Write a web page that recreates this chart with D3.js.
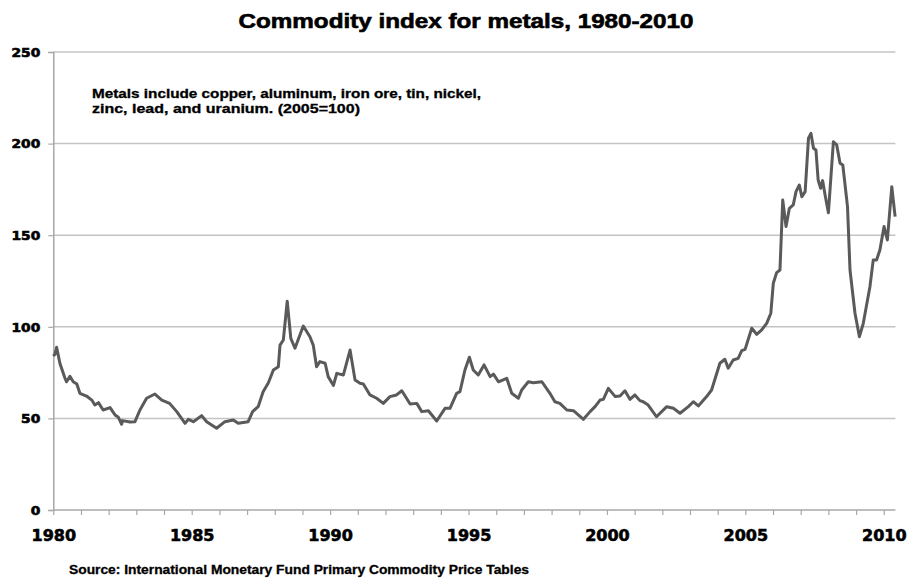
<!DOCTYPE html>
<html>
<head>
<meta charset="utf-8">
<script src="https://cdn.jsdelivr.net/npm/d3@7"></script>
<style>
  body { margin: 0; background: #fff; }
  svg { display: block; }
</style>
</head>
<body>
<div id="chart"></div>
<script>
// monthly-ish readings of the IMF metals index (2005=100)
const years = [1980.00, 1980.06, 1980.12, 1980.24, 1980.42, 1980.48, 1980.6, 1980.72, 1980.85, 1980.96,
  1981.2, 1981.39, 1981.5, 1981.63, 1981.8, 1982.05, 1982.23, 1982.35, 1982.47, 1982.5,
  1982.77, 1982.95, 1983.13, 1983.37, 1983.67, 1983.92, 1984.2, 1984.46, 1984.76, 1984.88,
  1985.06, 1985.36, 1985.54, 1985.9, 1986.2, 1986.5, 1986.68, 1987.04, 1987.2, 1987.4,
  1987.58, 1987.77, 1987.95, 1988.13, 1988.19, 1988.31, 1988.45, 1988.58, 1988.73, 1989.03,
  1989.27, 1989.39, 1989.51, 1989.63, 1989.82, 1989.93, 1990.12, 1990.24, 1990.48, 1990.72,
  1990.9, 1991.08, 1991.2, 1991.44, 1991.68, 1991.92, 1992.16, 1992.4, 1992.59, 1992.89,
  1993.13, 1993.31, 1993.55, 1993.85, 1994.15, 1994.33, 1994.57, 1994.69, 1994.87, 1995.03,
  1995.17, 1995.35, 1995.56, 1995.78, 1995.9, 1996.08, 1996.38, 1996.56, 1996.8, 1996.92,
  1997.16, 1997.34, 1997.65, 1997.94, 1998.12, 1998.3, 1998.55, 1998.79, 1999.15, 1999.39,
  1999.57, 1999.75, 1999.87, 2000.05, 2000.3, 2000.47, 2000.65, 2000.83, 2001.01, 2001.19,
  2001.31, 2001.49, 2001.79, 2002.16, 2002.4, 2002.64, 2002.94, 2003.12, 2003.3, 2003.6,
  2003.78, 2004.08, 2004.26, 2004.38, 2004.56, 2004.74, 2004.87, 2004.99, 2005.23, 2005.41,
  2005.59, 2005.77, 2005.92, 2006.01, 2006.13, 2006.25, 2006.35, 2006.47, 2006.59, 2006.73,
  2006.83, 2006.95, 2007.04, 2007.16, 2007.28, 2007.37, 2007.46, 2007.55, 2007.63, 2007.72,
  2007.79, 2007.88, 2008.0, 2008.18, 2008.3, 2008.42, 2008.52, 2008.69, 2008.78, 2008.96,
  2009.12, 2009.26, 2009.5, 2009.62, 2009.74, 2009.86, 2010.01, 2010.13, 2010.29, 2010.41]

const metalIndex = [84, 85, 88.8, 80, 72, 70, 73, 70, 68.8, 63.7,
  62.2, 60, 57.3, 58.6, 54.6, 55.9, 51.9, 50.6, 46.8, 48.8,
  48, 48.2, 54.6, 61, 63.3, 60, 58.2, 53.7, 47.3, 49.5,
  48.2, 51.5, 48.2, 44.6, 48.2, 49.1, 47.3, 48.2, 53.7, 56.4,
  64.6, 69.5, 76.4, 78.2, 90, 92.8, 114, 93.7, 88.3, 100.4,
  94.6, 90, 78.2, 81, 80.1, 72.8, 68, 74.6, 73.7, 87.3,
  71, 69.2, 68.8, 62.8, 61, 58.2, 61.9, 62.8, 65.1, 57.9,
  58.2, 53.7, 54.2, 48.6, 55.5, 55.5, 63.7, 64.6, 76.4, 83.4,
  76.4, 73.7, 79.2, 72.8, 74.2, 70, 71.9, 63.7, 61, 65.5,
  70, 69.5, 70, 63.7, 59.1, 58.2, 54.6, 54.2, 49.5, 53.7,
  56.4, 60, 60.4, 66.4, 61.9, 62.2, 65.1, 60.4, 62.8, 59.7,
  59.1, 57.3, 50.9, 56.4, 55.5, 52.8, 56.4, 59.1, 56.8, 61.9,
  65.5, 80.1, 82.3, 77.4, 81.9, 82.8, 87, 87.7, 99.2, 95.9,
  98.3, 101.9, 107.4, 123.8, 129.6, 131, 169.2, 154.7, 164.7, 166.5,
  173.8, 177.4, 171, 173.8, 202.9, 205.6, 197.5, 196.5, 180.1, 175.6,
  179.8, 172, 162.3, 201, 199.3, 189.3, 188.3, 165.6, 131, 107.4,
  94.6, 101.9, 121.9, 136.5, 136.5, 141.9, 154.7, 147.4, 176.5, 160.1]

const yTicks = [0, 50, 100, 150, 200, 250]
const xTicks = d3.range(1980, 2011)
const xLabels = [1980, 1985, 1990, 1995, 2000, 2005, 2010]

const title = "Commodity index for metals, 1980-2010"
const note = ["Metals include copper, aluminum, iron ore, tin, nickel,",
              "zinc, lead, and uranium. (2005=100)"]
const source = "Source: International Monetary Fund Primary Commodity Price Tables"

const width = 914
const height = 582
const margin = { left: 53.3, right: 18.6, top: 52, bottom: 72 }

const data = years.map(function(y, i) { return { year: y, value: metalIndex[i] } })

var svg = d3.select("#chart")
  .append("svg")
  .attr("width", width)
  .attr("height", height)

var x = d3.scaleLinear()
  .domain([1980, 2010.42])
  .range([margin.left, width - margin.right])

var y = d3.scaleLinear()
  .domain([0, 250])
  .range([height - margin.bottom, margin.top])

// gridlines
svg.append("g")
  .selectAll("line")
  .data(yTicks.filter(d => d > 0))
  .enter().append("line")
    .attr("x1", x.range()[0])
    .attr("x2", x.range()[1])
    .attr("y1", d => y(d))
    .attr("y2", d => y(d))
    .attr("stroke", "#c4c4c4")
    .attr("stroke-width", 1.5)

// y axis
var yAxis = svg.append("g")
  .attr("transform", "translate(" + x.range()[0] + ",0)")
  .call(d3.axisLeft(y).tickValues(yTicks).tickSize(5).tickPadding(8))
yAxis.select(".domain").attr("stroke", "#a8a8a8").attr("stroke-width", 1.5)
yAxis.selectAll(".tick line").attr("stroke", "#a8a8a8").attr("stroke-width", 1.2)
yAxis.selectAll("text")
  .attr("font-family", "DejaVu Sans")
  .attr("font-weight", "bold")
  .attr("font-size", 12)
  .attr("fill", "#000")
  .attr("stroke", "#000")
  .attr("stroke-width", 0.6)
  .attr("x", -13)
  .attr("dy", "0.36em")
  .attr("textLength", d => String(d).length * 9.6)
  .attr("lengthAdjust", "spacingAndGlyphs")

// x axis
var xAxis = svg.append("g")
  .attr("transform", "translate(0," + y(0) + ")")
  .call(d3.axisBottom(x).tickValues(xTicks).tickSize(5)
    .tickFormat(d => xLabels.includes(d) ? String(d) : ""))
xAxis.select(".domain").attr("stroke", "#a8a8a8").attr("stroke-width", 1.5)
  .attr("d", "M" + x.range()[0] + ",0H" + x.range()[1])
xAxis.selectAll(".tick line").attr("stroke", "#a8a8a8").attr("stroke-width", 1.2)
xAxis.selectAll("text")
  .attr("font-family", "DejaVu Sans")
  .attr("font-weight", "bold")
  .attr("font-size", 16)
  .attr("fill", "#000")
  .attr("stroke", "#000")
  .attr("stroke-width", 0.6)
  .attr("y", 31)
  .attr("dy", 0)

// the series
var line = d3.line()
  .x(d => x(d.year))
  .y(d => y(d.value))

svg.append("path")
  .datum(data)
  .attr("fill", "none")
  .attr("stroke", "#5a5a5a")
  .attr("stroke-width", 3)
  .attr("stroke-linejoin", "round")
  .attr("d", line)

// texts
svg.append("text")
  .attr("x", 466)
  .attr("y", 28)
  .attr("text-anchor", "middle")
  .attr("font-family", "Liberation Sans, Arial, sans-serif")
  .attr("font-weight", "bold")
  .attr("font-size", 20)
  .attr("stroke", "#000")
  .attr("stroke-width", 0.6)
  .attr("textLength", 455)
  .attr("lengthAdjust", "spacingAndGlyphs")
  .text(title)

svg.append("g")
  .selectAll("text")
  .data(note)
  .enter().append("text")
    .attr("x", 92)
    .attr("y", (d, i) => 98 + i * 15)
    .attr("font-family", "Liberation Sans, Arial, sans-serif")
    .attr("font-weight", "bold")
    .attr("font-size", 12.5)
    .attr("stroke", "#000")
    .attr("stroke-width", 0.3)
    .attr("textLength", (d, i) => i == 0 ? 389 : 268)
    .attr("lengthAdjust", "spacingAndGlyphs")
    .text(d => d)

svg.append("text")
  .attr("x", 69)
  .attr("y", 574)
  .attr("font-family", "Liberation Sans, Arial, sans-serif")
  .attr("font-weight", "bold")
  .attr("font-size", 12.5)
  .attr("stroke", "#000")
  .attr("stroke-width", 0.3)
  .attr("textLength", 460)
  .attr("lengthAdjust", "spacingAndGlyphs")
  .text(source)
</script>
</body>
</html>
